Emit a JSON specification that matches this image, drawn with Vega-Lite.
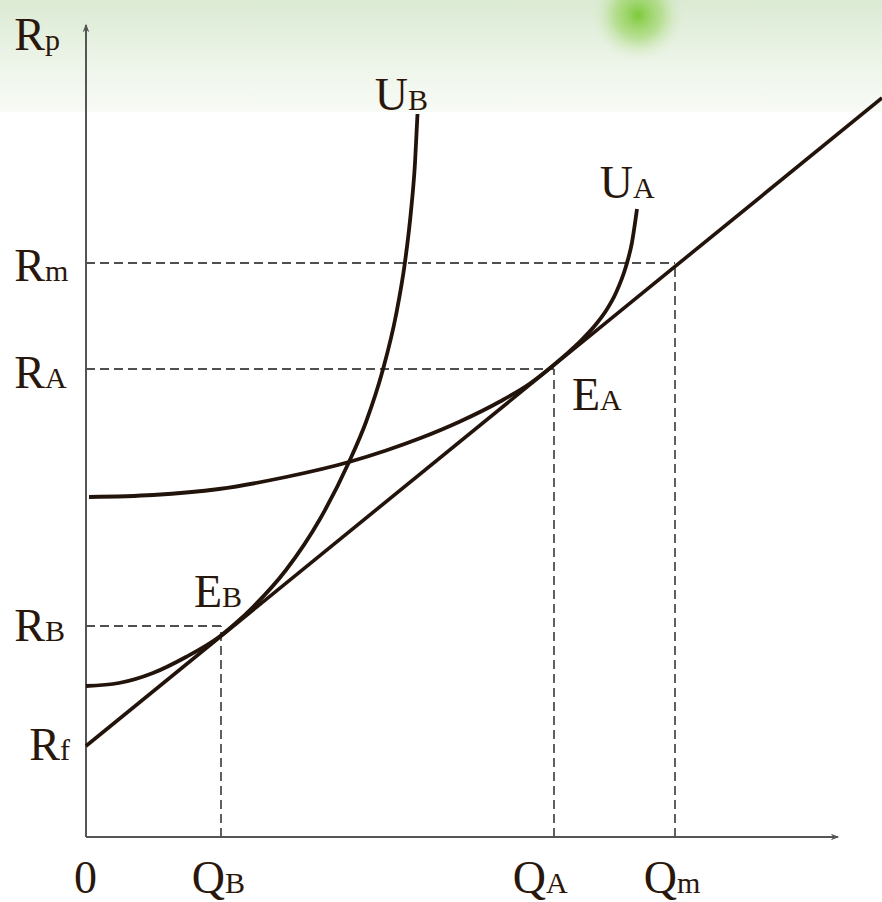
{
  "$schema": "https://vega.github.io/schema/vega-lite/v6.json",
  "width": 882,
  "height": 902,
  "padding": 0,
  "autosize": {"type": "none"},
  "background": "#ffffff",
  "config": {"view": {"stroke": null}},
  "datasets": {
    "band": [{"x": -86, "x2": 796, "y": 837, "y2": 725}],
    "blob": [{"x": 552, "y": 822}],
    "axes": [
      {"x": 0, "y": 0, "x2": 0, "y2": 812},
      {"x": 0, "y": 0, "x2": 752, "y2": 0}
    ],
    "arrows": [
      {"x": 0, "y": 809, "dir": "up"},
      {"x": 749, "y": 0, "dir": "right"}
    ],
    "dashes": [
      {"x": 0, "y": 211, "x2": 135, "y2": 211},
      {"x": 135, "y": 0, "x2": 135, "y2": 211},
      {"x": 0, "y": 468, "x2": 468, "y2": 468},
      {"x": 468, "y": 0, "x2": 468, "y2": 468},
      {"x": 0, "y": 574, "x2": 589, "y2": 574},
      {"x": 589, "y": 0, "x2": 589, "y2": 574}
    ],
    "cml": [{"x": 0, "y": 91}, {"x": 796, "y": 739}],
    "curves": [
      {"c": "UA", "x": 3, "y": 340},
      {"c": "UA", "x": 67, "y": 342},
      {"c": "UA", "x": 133, "y": 348},
      {"c": "UA", "x": 200, "y": 360},
      {"c": "UA", "x": 263, "y": 375},
      {"c": "UA", "x": 300, "y": 386.5},
      {"c": "UA", "x": 334, "y": 398.7},
      {"c": "UA", "x": 374, "y": 415.5},
      {"c": "UA", "x": 414, "y": 435.5},
      {"c": "UA", "x": 444, "y": 453.5},
      {"c": "UA", "x": 468, "y": 472.3},
      {"c": "UA", "x": 480, "y": 482.6},
      {"c": "UA", "x": 495, "y": 496.4},
      {"c": "UA", "x": 510, "y": 512.7},
      {"c": "UA", "x": 520, "y": 526.2},
      {"c": "UA", "x": 530, "y": 544.2},
      {"c": "UA", "x": 540, "y": 570.7},
      {"c": "UA", "x": 546, "y": 594.7},
      {"c": "UA", "x": 551, "y": 628},
      {"c": "UB", "x": 0, "y": 151},
      {"c": "UB", "x": 33, "y": 154},
      {"c": "UB", "x": 67, "y": 164},
      {"c": "UB", "x": 100, "y": 180},
      {"c": "UB", "x": 133, "y": 200},
      {"c": "UB", "x": 150, "y": 214},
      {"c": "UB", "x": 167, "y": 230},
      {"c": "UB", "x": 200, "y": 267},
      {"c": "UB", "x": 234, "y": 318},
      {"c": "UB", "x": 263, "y": 375},
      {"c": "UB", "x": 280, "y": 415},
      {"c": "UB", "x": 297, "y": 467.7},
      {"c": "UB", "x": 310, "y": 522},
      {"c": "UB", "x": 319, "y": 575},
      {"c": "UB", "x": 325, "y": 626},
      {"c": "UB", "x": 329, "y": 674},
      {"c": "UB", "x": 331.5, "y": 723}
    ],
    "labels": [
      {"x": -41, "y": 787, "main": "R", "sub": "p"},
      {"x": -41, "y": 556, "main": "R", "sub": "m"},
      {"x": -41, "y": 449, "main": "R", "sub": "A"},
      {"x": -41, "y": 196, "main": "R", "sub": "B"},
      {"x": -26, "y": 77, "main": "R", "sub": "f"},
      {"x": 11, "y": -56, "main": "0", "sub": ""},
      {"x": 139, "y": -56, "main": "Q", "sub": "B"},
      {"x": 460, "y": -56, "main": "Q", "sub": "A"},
      {"x": 591, "y": -56, "main": "Q", "sub": "m"},
      {"x": 322, "y": 727, "main": "U", "sub": "B"},
      {"x": 547, "y": 639, "main": "U", "sub": "A"},
      {"x": 514, "y": 427, "main": "E", "sub": "A"},
      {"x": 136, "y": 230, "main": "E", "sub": "B"}
    ]
  },
  "encoding": {
    "x": {"field": "x", "type": "quantitative", "scale": {"domain": [-86, 796], "nice": false, "zero": false}, "axis": null},
    "y": {"field": "y", "type": "quantitative", "scale": {"domain": [-65, 837], "nice": false, "zero": false}, "axis": null}
  },
  "layer": [
    {
      "data": {"name": "band"},
      "mark": {"type": "rect", "fill": {"gradient": "linear", "x1": 0, "y1": 0, "x2": 0, "y2": 1, "stops": [{"offset": 0, "color": "#dbead3"}, {"offset": 0.6, "color": "#eef5ea"}, {"offset": 1, "color": "#f8fbf6"}]}},
      "encoding": {"x2": {"field": "x2"}, "y2": {"field": "y2"}}
    },
    {
      "data": {"name": "blob"},
      "mark": {"type": "point", "shape": "circle", "filled": true, "size": 9000, "opacity": 1, "fill": {"gradient": "radial", "stops": [{"offset": 0, "color": "rgba(120,200,50,0.95)"}, {"offset": 0.5, "color": "rgba(150,210,90,0.55)"}, {"offset": 1, "color": "rgba(220,236,210,0)"}]}}
    },
    {
      "data": {"name": "axes"},
      "mark": {"type": "rule", "color": "#555555", "strokeWidth": 2},
      "encoding": {"x2": {"field": "x2"}, "y2": {"field": "y2"}}
    },
    {
      "data": {"name": "arrows"},
      "mark": {"type": "point", "filled": true, "color": "#555555", "size": 70, "opacity": 1},
      "encoding": {
        "shape": {"field": "dir", "type": "nominal", "scale": {"domain": ["up", "right"], "range": ["M-0.8,1 L0,-1 L0.8,1 L0,0.4 Z", "M-1,-0.8 L1,0 L-1,0.8 L-0.4,0 Z"]}, "legend": null}
      }
    },
    {
      "data": {"name": "dashes"},
      "mark": {"type": "rule", "color": "#4f4f4f", "strokeWidth": 1.8, "strokeDash": [9, 5]},
      "encoding": {"x2": {"field": "x2"}, "y2": {"field": "y2"}}
    },
    {
      "data": {"name": "cml"},
      "mark": {"type": "line", "color": "#22130b", "strokeWidth": 3.6},
      "encoding": {}
    },
    {
      "data": {"name": "curves"},
      "mark": {"type": "line", "color": "#22130b", "strokeWidth": 3.8, "interpolate": "monotone"},
      "encoding": {"detail": {"field": "c", "type": "nominal"}}
    },
    {
      "data": {"name": "labels"},
      "mark": {"type": "text", "align": "right", "baseline": "alphabetic", "font": "Liberation Serif", "fontSize": 46, "color": "#2a170c"},
      "encoding": {"text": {"field": "main"}}
    },
    {
      "data": {"name": "labels"},
      "mark": {"type": "text", "align": "left", "baseline": "alphabetic", "font": "Liberation Serif", "fontSize": 30, "color": "#2a170c"},
      "encoding": {"text": {"field": "sub"}}
    }
  ]
}
